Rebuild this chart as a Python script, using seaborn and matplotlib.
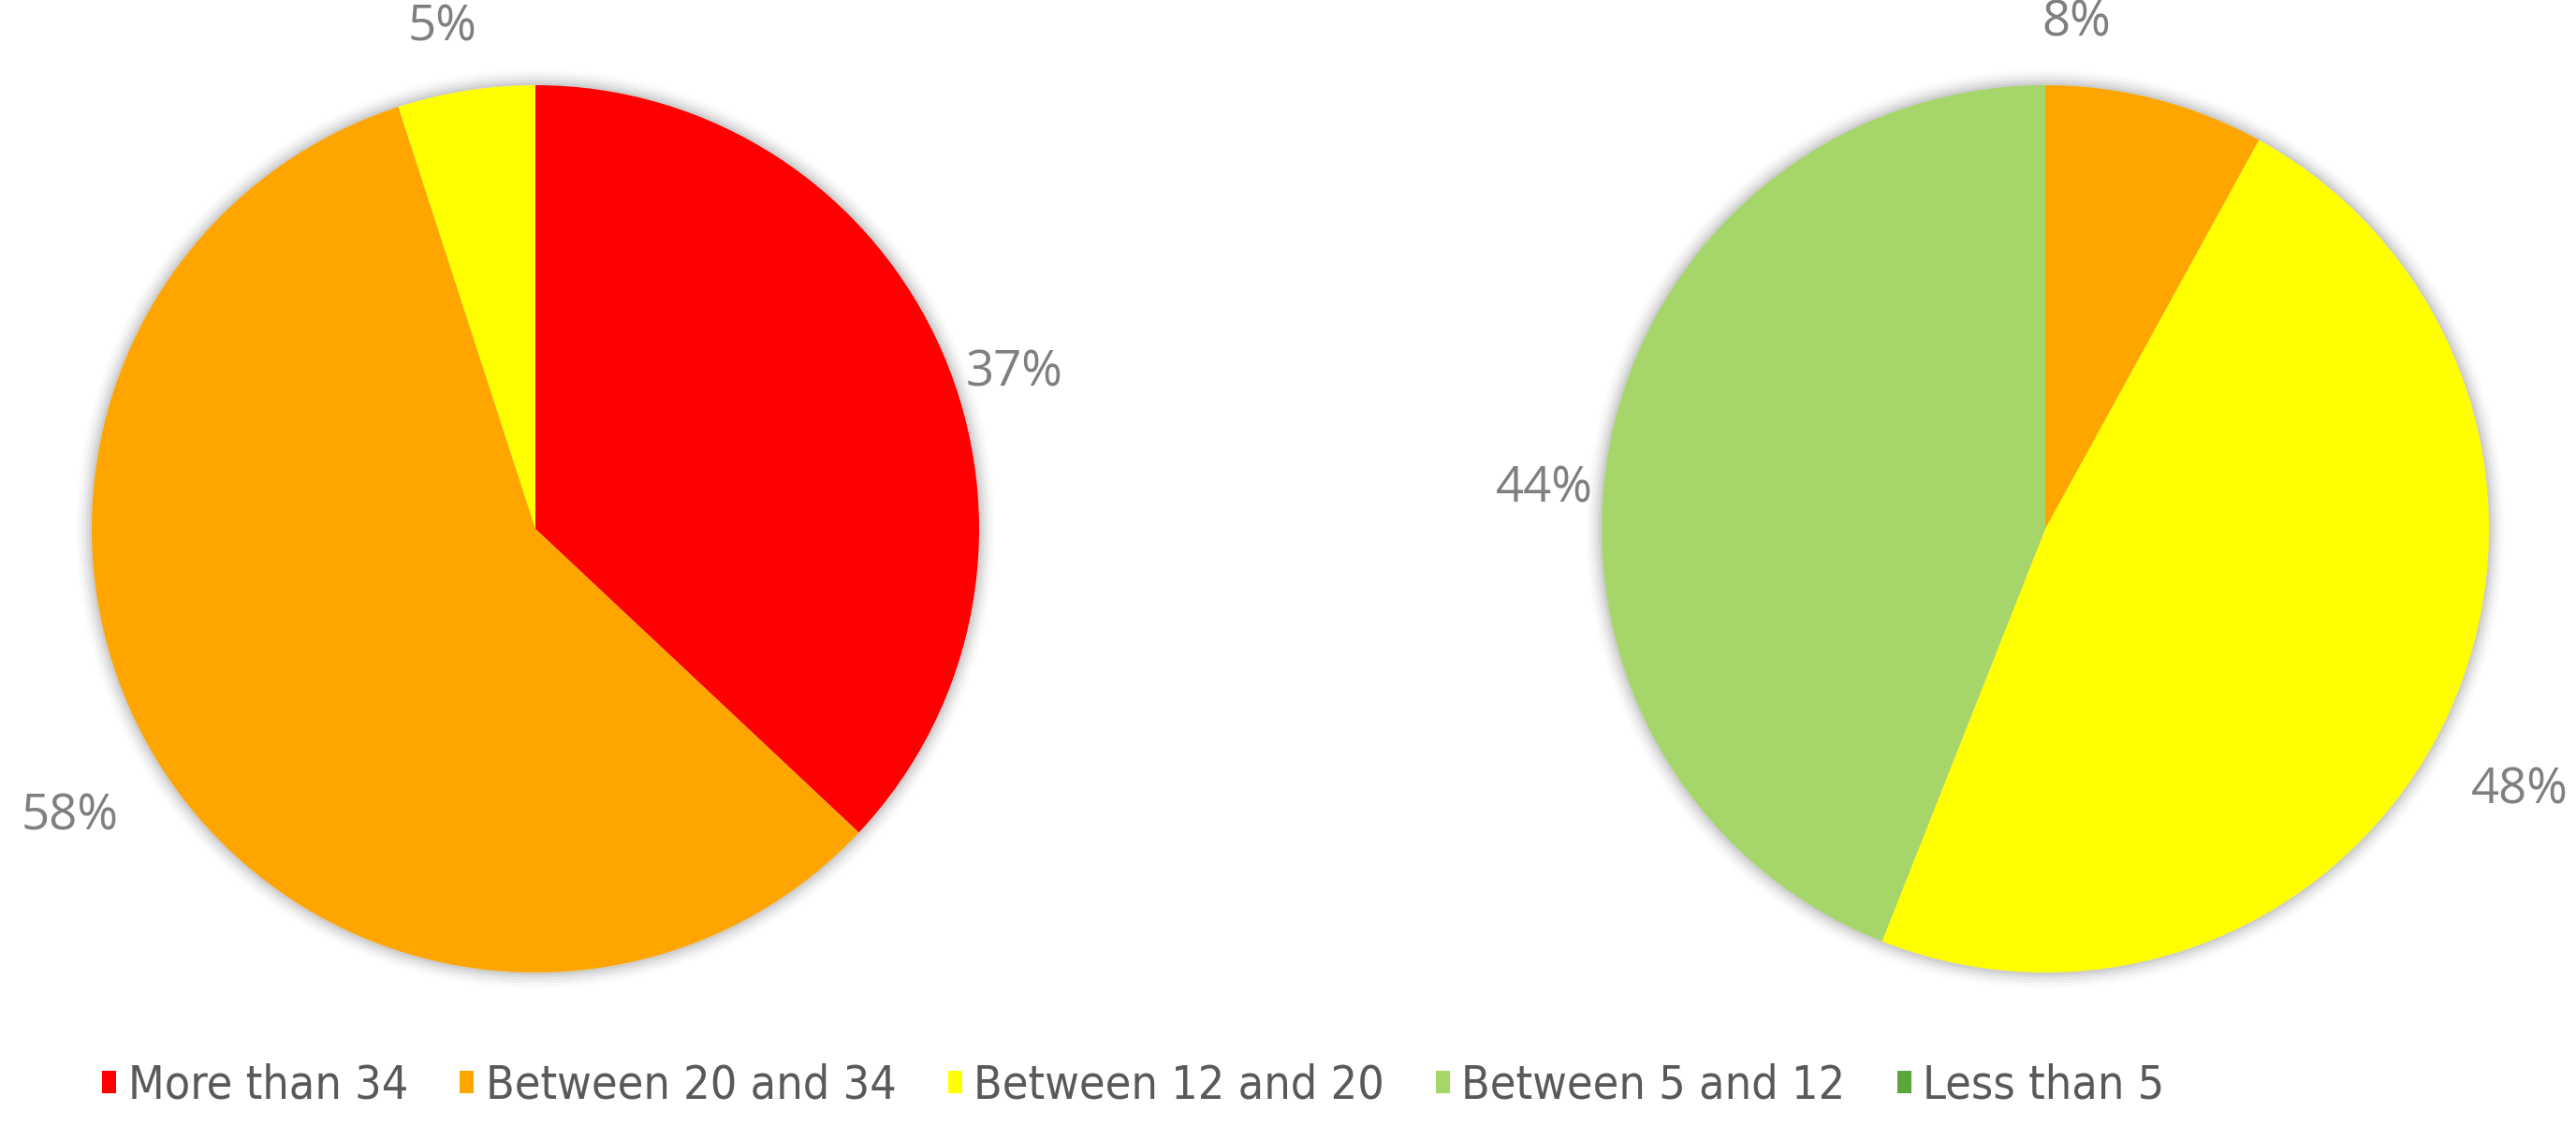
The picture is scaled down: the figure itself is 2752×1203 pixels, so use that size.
import numpy as np
import matplotlib.pyplot as plt
import seaborn as sns
from matplotlib.patches import Patch, Circle

sns.set_theme(style="white")
plt.rcParams['font.family'] = ['DejaVu Sans']

# categories and shares (%) for the two pies
categories = ["More than 34", "Between 20 and 34", "Between 12 and 20",
              "Between 5 and 12", "Less than 5"]
left_values = [37, 58, 5, 0, 0]
right_values = [0, 8, 48, 44, 0]
colors = ["#FF0000", "#FFA500", "#FFFF00", "#A6D66A", "#5BA63A"]

# where the percentage labels sit, in pie-radius units (as in the source)
left_label_pos = [(1.08, 0.35), (-1.05, -0.65), (-0.21, 1.13)]
right_label_pos = [(0.07, 1.14), (1.07, -0.59), (-1.13, 0.09)]

W, H = 2752, 1203
fig = plt.figure(figsize=(W / 100, H / 100), dpi=100)

R = 474          # pie radius in pixels
LIM = 1.45


def pie_axes(cx, cy):
    half = R * LIM
    ax = fig.add_axes([(cx - half) / W, (H - cy - half) / H, 2 * half / W, 2 * half / H])
    ax.set_xlim(-LIM, LIM)
    ax.set_ylim(-LIM, LIM)
    ax.set_aspect("equal")
    ax.axis("off")
    return ax


def fmt(p):
    return f"{p:.0f}%" if p > 0.5 else ""


def draw(ax, values, label_pos):
    # soft shadow behind the pie
    for i, a in enumerate(np.linspace(0.05, 0.01, 6)):
        ax.add_patch(Circle((0, 0), 1.0 + 0.006 * (i + 1), color="black",
                            alpha=a, lw=0, zorder=0))
    wedges, texts, autotexts = ax.pie(
        values, colors=colors, startangle=90, counterclock=False,
        autopct=fmt, pctdistance=1.15, radius=1.0,
        wedgeprops=dict(linewidth=0, zorder=1),
        textprops=dict(color="#7F7F7F", fontsize=38, family="Open Sans"))
    shown = [t for t in autotexts if t.get_text()]
    for t, pos in zip(shown, label_pos):
        t.set_position(pos)
        t.set_ha("center")
        t.set_va("center")
    ax.set_xlim(-LIM, LIM)
    ax.set_ylim(-LIM, LIM)


ax1 = pie_axes(572, 565)
draw(ax1, left_values, left_label_pos)
ax2 = pie_axes(2185, 565)
draw(ax2, right_values, right_label_pos)

handles = [Patch(facecolor=c, edgecolor="none", label=l) for c, l in zip(colors, categories)]
fig.legend(handles=handles, loc="center", bbox_to_anchor=(0.44, 1 - 1160 / H),
           ncol=5, frameon=False,
           prop=dict(family="DejaVu Sans", stretch="condensed", size=36),
           handlelength=0.3, handleheight=0.35,
           handletextpad=0.25, columnspacing=1.1, labelcolor="#595959")

fig.savefig("out.png", dpi=100, facecolor="white")
